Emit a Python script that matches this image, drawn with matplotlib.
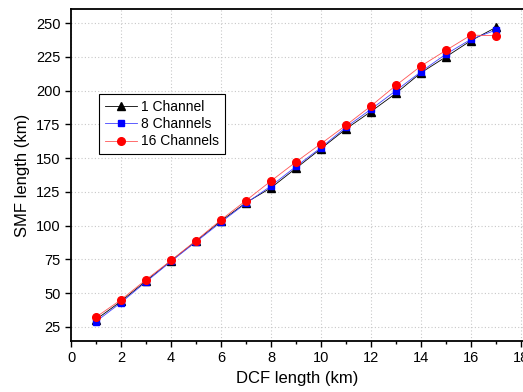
import numpy as np
import matplotlib

matplotlib.use("Agg")
import matplotlib.pyplot as plt
from matplotlib.ticker import MultipleLocator

plt.rcParams["font.family"] = ["Liberation Sans", "DejaVu Sans"]

dcf_km = [1, 2, 3, 4, 5, 6, 7, 8, 9, 10, 11, 12, 13, 14, 15, 16, 17]
smf_1ch = [30.5, 44, 59, 74, 88.5, 103.5, 117, 128, 142.5, 157, 171.6, 184.5,
           198, 213.2, 225, 237, 246.8]
smf_8ch = [29, 43, 58.4, 73.5, 88, 102.6, 116.6, 129.4, 143.8, 157.8, 172.9,
           186.2, 200, 214, 227, 238, 244.8]
smf_16ch = [32.3, 45.1, 60, 74.2, 89, 104.3, 118.6, 133.1, 147.2, 160.7, 174.3,
            188.6, 203.9, 218.2, 229.8, 241.1, 240.6]

fig = plt.figure(figsize=(5.23, 3.92), dpi=100)
ax = fig.add_axes([71 / 523, 1 - 341 / 392, 1 - 71 / 523, (341 - 9) / 392])

ax.plot(dcf_km, smf_1ch, color="black", lw=0.6, marker="^", ms=5.5,
        label="1 Channel")
ax.plot(dcf_km, smf_8ch, color="#4444ff", lw=0.6, marker="s", ms=4.8,
        mfc="blue", mec="blue", label="8 Channels")
ax.plot(dcf_km, smf_16ch, color="#ff5555", lw=0.6, marker="o", ms=5.5,
        mfc="red", mec="red", label="16 Channels")

ax.set_xlim(0, 18.08)
ax.set_ylim(14.6, 260.4)
ax.xaxis.set_major_locator(MultipleLocator(2))
ax.xaxis.set_minor_locator(MultipleLocator(1))
ax.yaxis.set_major_locator(MultipleLocator(25))
ax.tick_params(which="major", direction="out", length=4, width=1, labelsize=10.5)
ax.tick_params(which="minor", direction="out", length=2.5, width=1)
ax.grid(True, which="major", color="#c8c8c8", ls=(0, (1, 2)), lw=0.8)
for s in ax.spines.values():
    s.set_linewidth(1.3)
ax.spines["right"].set_visible(False)

ax.set_xlabel("DCF length (km)", fontsize=12)
ax.set_ylabel("SMF length (km)", fontsize=12)

leg = ax.legend(loc="upper left", bbox_to_anchor=(0.063, 0.744),
                borderaxespad=0, fontsize=10, fancybox=False,
                edgecolor="black", framealpha=1, handlelength=2.3,
                handletextpad=0.3, labelspacing=0.25, borderpad=0.4)
leg.get_frame().set_linewidth(0.8)

fig.savefig("out.png", dpi=100)
